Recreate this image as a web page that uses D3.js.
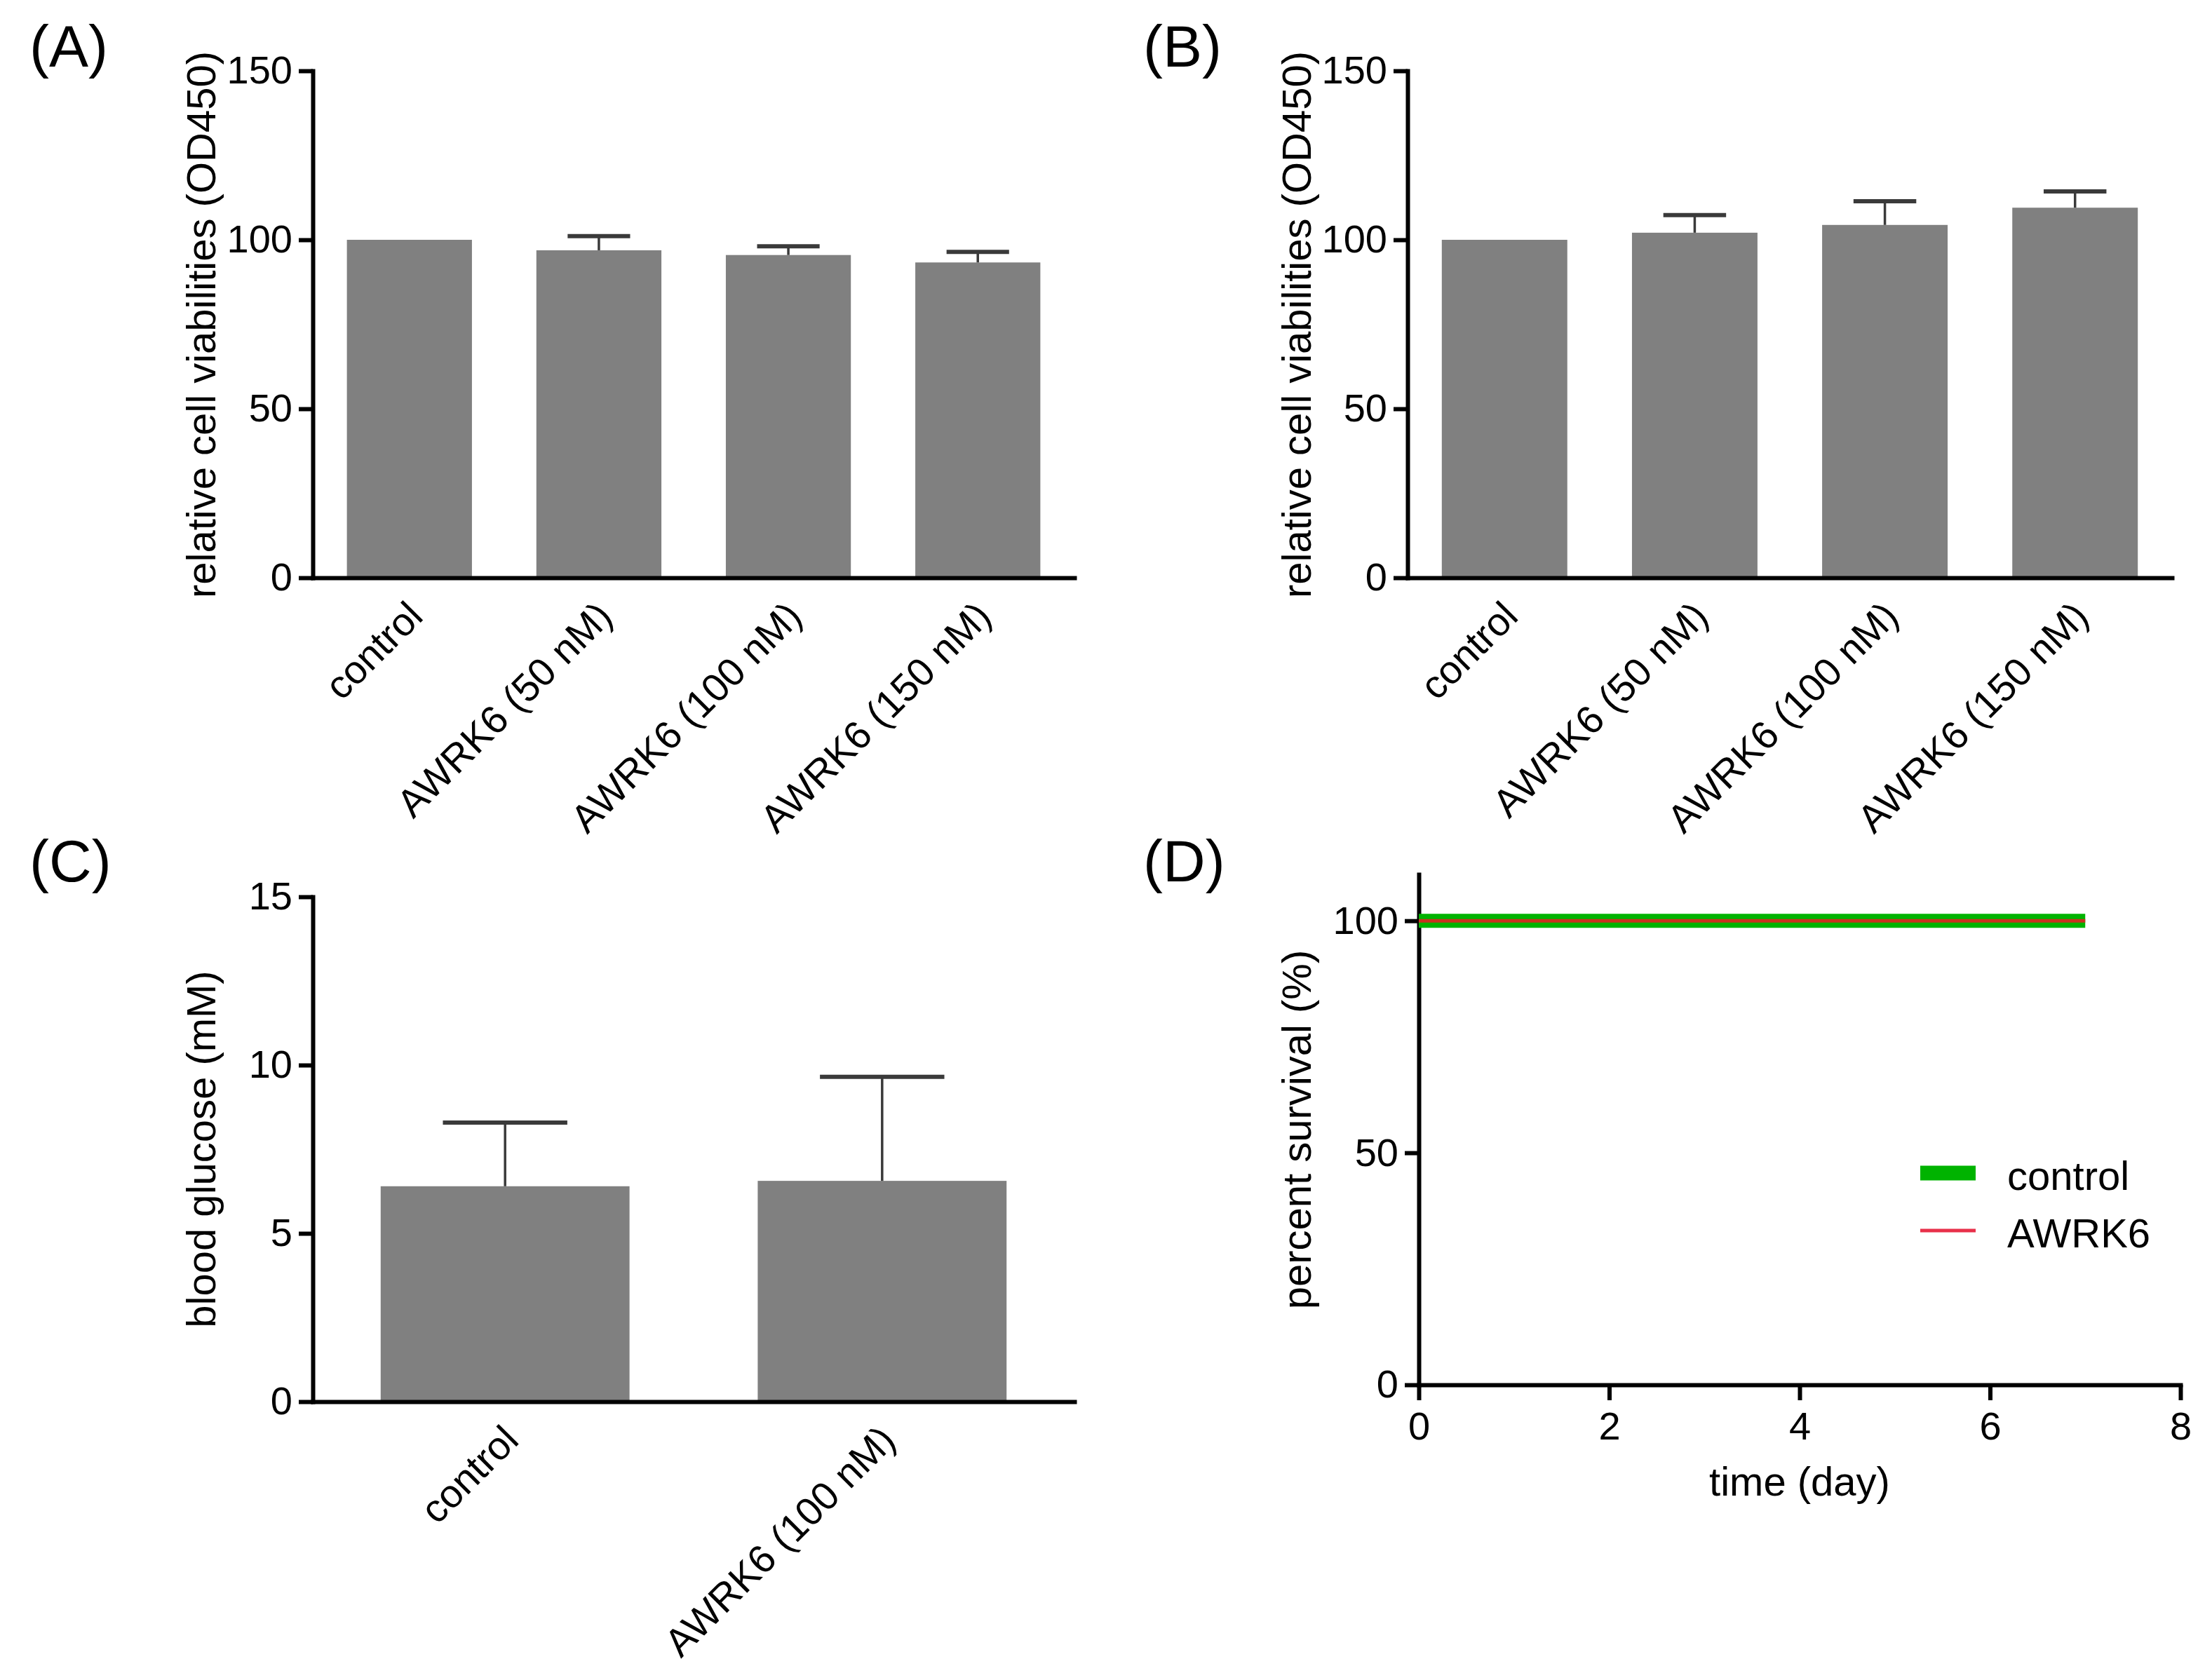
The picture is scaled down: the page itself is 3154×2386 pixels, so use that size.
<!DOCTYPE html>
<html>
<head>
<meta charset="utf-8">
<script src="https://cdn.jsdelivr.net/npm/d3@7"></script>
<style>
  body { margin: 0; background: #fff; }
  svg { display: block; font-family: "Liberation Sans", Arial, sans-serif; }
  .axis path, .axis line { stroke: #000; stroke-width: 6; }
  .axis path { stroke-linecap: square; }
  .axis text { font-size: 56px; fill: #000; }
</style>
</head>
<body>
<svg id="fig" width="3154" height="2386"></svg>
<script>
// ---- data ----
const viabilityCats = ["control", "AWRK6 (50 nM)", "AWRK6 (100 nM)", "AWRK6 (150 nM)"];
const viabilityA = [100, 96.9, 95.5, 93.3];
const viabilityAErr = [0, 4.2, 2.6, 3.1];
const viabilityB = [100, 102.1, 104.4, 109.5];
const viabilityBErr = [0, 5.2, 7.0, 4.8];
const viabilityTicks = [0, 50, 100, 150];

const glucoseCats = ["control", "AWRK6 (100 nM)"];
const glucose = [6.40, 6.56];
const glucoseErr = [1.89, 3.09];
const glucoseTicks = [0, 5, 10, 15];

const survivalDays = [0, 7];
const survivalControl = [100, 100];
const survivalAWRK6 = [100, 100];
const survivalYTicks = [0, 50, 100];
const survivalXTicks = [0, 2, 4, 6, 8];

const svg = d3.select("#fig");

function panelLabel(text, x, y) {
    svg.append("text")
        .attr("x", x)
        .attr("y", y)
        .style("font-size", "84px")
        .text(text);
}

function yTitle(text, x, y) {
    svg.append("text")
        .attr("transform", `translate(${x},${y}) rotate(-90)`)
        .attr("text-anchor", "middle")
        .style("font-size", "58px")
        .text(text);
}

// bar chart with upward-only error bars (GraphPad style)
function drawBarPanel(p) {
    let x = d3.scaleBand()
        .domain(p.cats)
        .range([p.left, p.right])
        .paddingInner(0.34)
        .paddingOuter(0.18);
    let y = d3.scaleLinear()
        .domain([0, p.ticks[p.ticks.length - 1]])
        .range([p.bottom, p.top]);

    let g = svg.append("g");
    let data = p.cats.map((c, i) => ({ cat: c, v: p.values[i], e: p.errs[i] }));

    g.selectAll(".bar")
        .data(data)
        .enter()
        .append("rect")
        .attr("class", "bar")
        .attr("x", d => x(d.cat))
        .attr("y", d => y(d.v))
        .attr("width", x.bandwidth())
        .attr("height", d => y(0) - y(d.v))
        .style("fill", "#808080");

    let err = data.filter(d => d.e > 0);
    g.selectAll(".stem")
        .data(err)
        .enter()
        .append("line")
        .attr("class", "stem")
        .attr("x1", d => x(d.cat) + x.bandwidth() / 2)
        .attr("x2", d => x(d.cat) + x.bandwidth() / 2)
        .attr("y1", d => y(d.v))
        .attr("y2", d => y(d.v + d.e))
        .style("stroke", "#3a3a3a")
        .style("stroke-width", 3.5);
    g.selectAll(".cap")
        .data(err)
        .enter()
        .append("line")
        .attr("class", "cap")
        .attr("x1", d => x(d.cat) + x.bandwidth() / 4)
        .attr("x2", d => x(d.cat) + x.bandwidth() * 3 / 4)
        .attr("y1", d => y(d.v + d.e))
        .attr("y2", d => y(d.v + d.e))
        .style("stroke", "#3a3a3a")
        .style("stroke-width", 6);

    g.append("g")
        .attr("class", "axis")
        .attr("transform", `translate(${p.left},0)`)
        .call(d3.axisLeft(y).tickValues(p.ticks).tickSize(20).tickSizeOuter(0).tickPadding(9));

    let xa = g.append("g")
        .attr("class", "axis")
        .attr("transform", `translate(0,${p.bottom})`)
        .call(d3.axisBottom(x).tickSize(0).tickSizeOuter(0));
    xa.selectAll(".tick text")
        .attr("y", null)
        .attr("dy", null)
        .attr("text-anchor", "end")
        .attr("transform", "translate(22,58) rotate(-45)");
}

function drawSurvival(p) {
    let x = d3.scaleLinear().domain([0, 8]).range([p.left, p.right]);
    let y = d3.scaleLinear().domain([0, 110]).range([p.bottom, p.top]);
    let g = svg.append("g");

    g.append("g")
        .attr("class", "axis")
        .attr("transform", `translate(${p.left},0)`)
        .call(d3.axisLeft(y).tickValues(survivalYTicks).tickSize(20).tickSizeOuter(0).tickPadding(9));
    g.append("g")
        .attr("class", "axis")
        .attr("transform", `translate(0,${p.bottom})`)
        .call(d3.axisBottom(x).tickValues(survivalXTicks).tickSize(22).tickSizeOuter(0).tickPadding(16));

    let line = d3.line()
        .x(d => x(d[0]))
        .y(d => y(d[1]));
    g.append("path")
        .datum(survivalDays.map((d, i) => [d, survivalControl[i]]))
        .attr("d", line)
        .style("fill", "none")
        .style("stroke", "#00b300")
        .style("stroke-width", 20);
    g.append("path")
        .datum(survivalDays.map((d, i) => [d, survivalAWRK6[i]]))
        .attr("d", line)
        .style("fill", "none")
        .style("stroke", "#c8321e")
        .style("stroke-width", 5);

    // legend
    let legend = [
        { name: "control", color: "#00b300", w: 21, y: 1673 },
        { name: "AWRK6", color: "#e8304a", w: 5, y: 1755 }
    ];
    let lg = g.selectAll(".legend")
        .data(legend)
        .enter()
        .append("g")
        .attr("class", "legend");
    lg.append("line")
        .attr("x1", 2738)
        .attr("x2", 2817)
        .attr("y1", d => d.y)
        .attr("y2", d => d.y)
        .style("stroke", d => d.color)
        .style("stroke-width", d => d.w);
    lg.append("text")
        .attr("x", 2862)
        .attr("y", d => d.y + 24)
        .style("font-size", "58px")
        .text(d => d.name);

    g.append("text")
        .attr("x", (p.left + p.right) / 2)
        .attr("y", 2133)
        .attr("text-anchor", "middle")
        .style("font-size", "58px")
        .text("time (day)");
}

drawBarPanel({ cats: viabilityCats, values: viabilityA, errs: viabilityAErr, ticks: viabilityTicks,
    left: 446, right: 1532, top: 101, bottom: 824 });
drawBarPanel({ cats: viabilityCats, values: viabilityB, errs: viabilityBErr, ticks: viabilityTicks,
    left: 2007, right: 3097, top: 101, bottom: 824 });
drawBarPanel({ cats: glucoseCats, values: glucose, errs: glucoseErr, ticks: glucoseTicks,
    left: 446, right: 1532, top: 1279, bottom: 1999 });
drawSurvival({ left: 2023, right: 3109, top: 1247, bottom: 1975 });

yTitle("relative cell viabilities (OD450)", 307, 463);
yTitle("relative cell viabilities (OD450)", 1869, 463);
yTitle("blood glucose (mM)", 307, 1639);
yTitle("percent survival (%)", 1869, 1611);

panelLabel("(A)", 42, 95);
panelLabel("(B)", 1630, 95);
panelLabel("(C)", 42, 1257);
panelLabel("(D)", 1630, 1257);
</script>
</body>
</html>
